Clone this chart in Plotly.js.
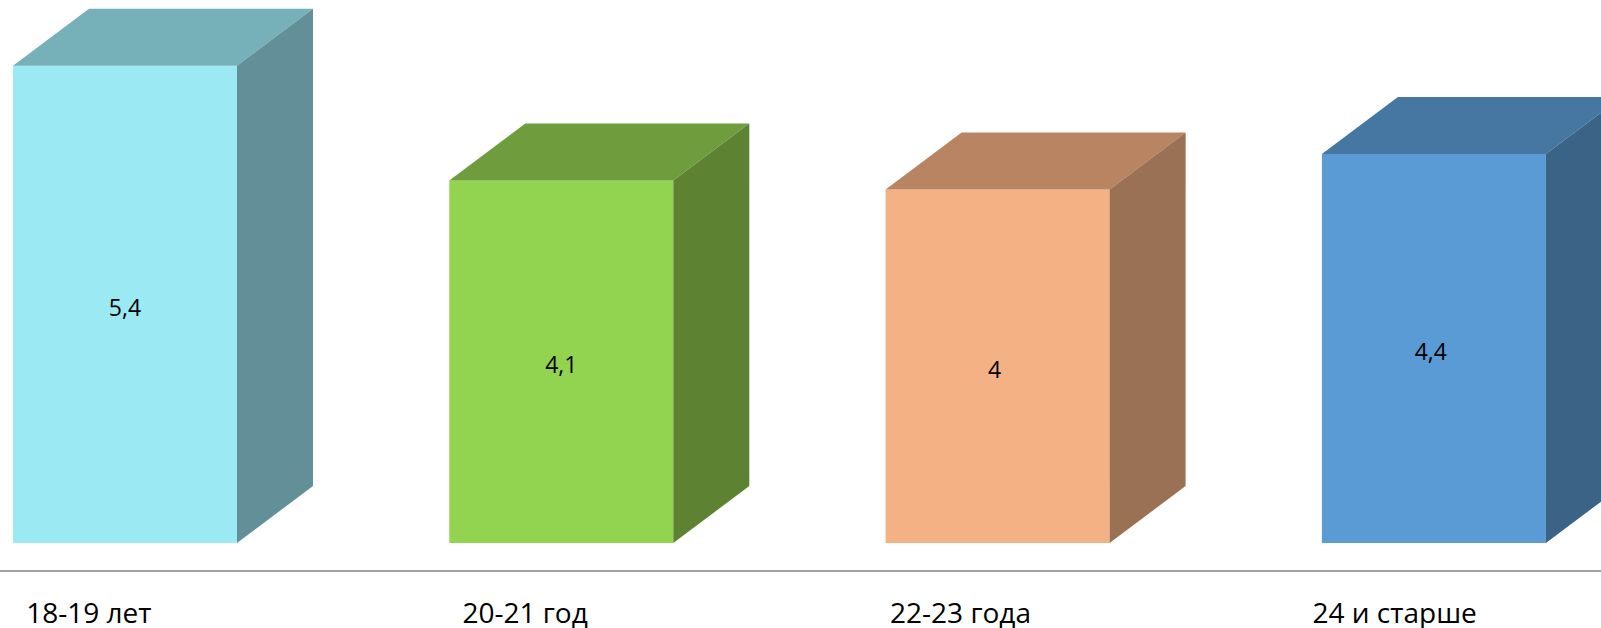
<!DOCTYPE html>
<html>
<head>
<meta charset="utf-8">
<script src="https://cdn.plot.ly/plotly-3.0.1.min.js"></script>
<style>html,body{margin:0;padding:0;background:#fff;overflow:hidden}</style>
</head>
<body>
<div id="chart" style="width:1601px;height:628px"></div>
<script>
// Age groups and their values
const categories = ['18-19 лет', '20-21 год', '22-23 года', '24 и старше'];
const values = [5.4, 4.1, 4, 4.4];
const slots = [0, 1, 2, 3];
const tickPositions = [-0.083, 0.917, 1.915, 2.91];
const valueLabelPositions = [0, 1, 1.993, 2.993];

// Face colours of each box
const frontColors = ['#9BE9F3', '#92D350', '#F4B183', '#5B9BD5'];
const topColors = ['#76B0B8', '#6F9C3C', '#B98462', '#4676A2'];
const sideColors = ['#639098', '#5D8232', '#9B7155', '#3B6385'];

// Box proportions in axis units
const barWidth = 0.5134;
const depthX = 0.1742;
const depthY = 0.6448;
const labelDrop = 0.065;

// Polygon for one receding face of a box
function faceTrace(xs, ys, color) {
  return {
    type: 'scatter', mode: 'lines', x: xs, y: ys,
    fill: 'toself', fillcolor: color,
    line: {width: 0, color: color},
    hoverinfo: 'skip', showlegend: false
  };
}

const traces = [{
  type: 'bar',
  x: slots,
  y: values,
  width: barWidth,
  marker: {color: frontColors, line: {width: 0}},
  hoverinfo: 'x+y',
  showlegend: false
}];

slots.forEach((s, i) => {
  const left = s - barWidth / 2;
  const right = s + barWidth / 2;
  const v = values[i];
  traces.push(faceTrace(
    [left, right, right + depthX, left + depthX, left],
    [v, v, v + depthY, v + depthY, v],
    topColors[i]));
  traces.push(faceTrace(
    [right, right + depthX, right + depthX, right, right],
    [0, depthY, v + depthY, v, 0],
    sideColors[i]));
});

// Value labels sit near the middle of each front face
traces.push({
  type: 'scatter',
  mode: 'text',
  x: valueLabelPositions,
  y: values.map(v => v / 2 - labelDrop),
  text: values.map(v => String(v).replace('.', ',')),
  textposition: 'middle center',
  textfont: {family: 'Open Sans, sans-serif', size: 23, color: '#000000'},
  hoverinfo: 'skip',
  showlegend: false
});

const layout = {
  width: 1601,
  height: 628,
  margin: {l: 0, r: 0, t: 0, b: 58, pad: 0},
  paper_bgcolor: '#ffffff',
  plot_bgcolor: '#ffffff',
  showlegend: false,
  xaxis: {
    range: [-0.2865, 3.383],
    tickmode: 'array',
    tickvals: tickPositions,
    ticktext: categories,
    ticks: '',
    ticklabelstandoff: 17,
    tickfont: {family: 'Open Sans, sans-serif', size: 28, color: '#000000'},
    showgrid: false,
    zeroline: false,
    showline: true,
    linecolor: '#A0A0A0',
    linewidth: 2
  },
  yaxis: {
    range: [-0.3054, 6.1425],
    visible: false,
    showgrid: false,
    zeroline: false
  }
};

Plotly.newPlot('chart', traces, layout, {displayModeBar: false, responsive: false});
</script>
</body>
</html>
